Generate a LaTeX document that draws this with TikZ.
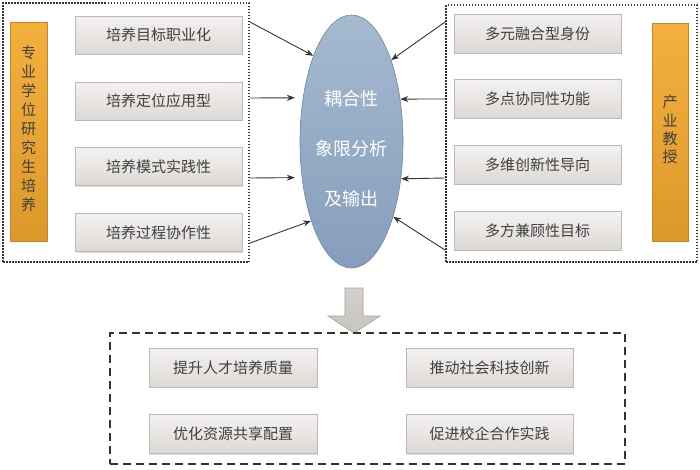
\documentclass[tikz,border=0pt]{standalone}
\usepackage{fontspec}
\setmainfont{Noto Sans CJK SC}
\usetikzlibrary{shapes.geometric,arrows.meta,shadows}
\definecolor{boxtxt}{HTML}{404040}
\definecolor{boxtop}{HTML}{F4F2F1}
\definecolor{boxbot}{HTML}{DCD8D5}
\definecolor{boxline}{HTML}{BDB8B4}
\definecolor{ortop}{HTML}{F4B03E}
\definecolor{orbot}{HTML}{DC992B}
\definecolor{orline}{HTML}{C58726}
\definecolor{eltop}{HTML}{A4BAD0}
\definecolor{elbot}{HTML}{869EBC}
\definecolor{elline}{HTML}{6F87A5}
\definecolor{arrgray}{HTML}{C8C4C0}
\definecolor{arrline}{HTML}{A39E9A}
\definecolor{dark}{HTML}{333333}
\tikzset{
  itembox/.style={draw=boxline, line width=0.6pt, top color=boxtop, bottom color=boxbot,
    minimum width=167pt, minimum height=38pt, inner sep=0pt, text=boxtxt,
    font=\fontsize{15}{18}\selectfont,
    drop shadow={shadow xshift=1.2pt, shadow yshift=-1.2pt, opacity=0.25}},
  orbar/.style={draw=orline, line width=0.6pt, top color=ortop, bottom color=orbot,
    minimum width=37pt, minimum height=219pt, inner sep=0pt,
    drop shadow={shadow xshift=1.2pt, shadow yshift=-1.2pt, opacity=0.25}},
  bartxt/.style={text=boxtxt, align=center, inner sep=0pt},
  dotbox/.style={draw=dark, line width=2pt, dash pattern=on 1.5pt off 1.5pt, inner sep=0pt},
  dashbox/.style={draw=dark, line width=2pt, dash pattern=on 8pt off 5pt, inner sep=0pt},
  core/.style={ellipse, draw=elline, line width=0.6pt, top color=eltop, bottom color=elbot,
    minimum width=103pt, minimum height=253pt, inner sep=0pt},
  arr/.style={draw=dark, line width=0.9pt, -{Stealth[length=8pt,width=6pt]}},
}
\begin{document}
\begin{tikzpicture}[x=1pt,y=-1pt]
\useasboundingbox (0,0) rectangle (700,469);
% dotted groups
\node[dotbox, minimum width=246pt, minimum height=259pt] (L) at (126,132.5) {};
\node[dotbox, minimum width=251pt, minimum height=257pt] (R) at (571.5,133.5) {};
% orange bars
\node[orbar] (LB) at (28.5,131.5) {};
\node[bartxt, font=\fontsize{15}{19}\selectfont] (LBt) at (28.5,129)
  {专\\业\\学\\位\\研\\究\\生\\培\\养};
\node[orbar, minimum width=36pt, minimum height=218pt] (RB) at (670,132) {};
\node[bartxt, font=\fontsize{15}{18.3}\selectfont] (RBt) at (670,129.5)
  {产\\业\\教\\授};
% left items
\node[itembox] (l1) at (158.5,35) {培养目标职业化};
\node[itembox] (l2) at (158.5,101) {培养定位应用型};
\node[itembox] (l3) at (158.5,166.5) {培养模式实践性};
\node[itembox] (l4) at (158.5,232.5) {培养过程协作性};
% right items
\node[itembox, minimum height=39pt] (r1) at (537.5,33.5) {多元融合型身份};
\node[itembox, minimum height=39pt] (r2) at (537.5,98.5) {多点协同性功能};
\node[itembox, minimum height=39pt] (r3) at (537.5,164.5) {多维创新性导向};
\node[itembox, minimum height=39pt] (r4) at (537.5,230.5) {多方兼顾性目标};
% core ellipse
\node[core] (E) at (351.5,141.5) {};
\node[text=white, align=center, inner sep=0pt, font=\fontsize{18}{50}\selectfont] (Et) at (351.5,149)
  {耦合性\\象限分析\\及输出};
% arrows
\coordinate (la1) at (L.east |- 0,22);
\coordinate (la2) at (L.east |- 0,98);
\coordinate (la3) at (L.east |- 0,178);
\coordinate (la4) at (L.east |- 0,243);
\coordinate (ra1) at (R.west |- 0,22);
\coordinate (ra2) at (R.west |- 0,99);
\coordinate (ra3) at (R.west |- 0,178);
\coordinate (ra4) at (R.west |- 0,250);
\draw[arr] (la1) -- (E.114);
\draw[arr, shorten >=8pt] (la2) -- (E.138);
\draw[arr, shorten >=7pt] (la3) -- (E.216.5);
\draw[arr] (la4) -- (E.243);
\draw[arr] (ra1) -- (E.64.4);
\draw[arr] (ra2) -- (E.41.2);
\draw[arr] (ra3) -- (E.323.5);
\draw[arr] (ra4) -- (E.299.1);
% big down arrow
\draw[draw=arrline, line width=0.6pt, top color=arrgray!80!white, bottom color=arrgray]
  (345,288) -- (363,288) -- (363,316) -- (380,316) -- (354,333) -- (328,316) -- (345,316) -- cycle;
% bottom group
\node[dashbox, minimum width=515pt, minimum height=131pt] (B) at (367.5,398.5) {};
\node[itembox, minimum width=168pt, minimum height=39pt] (b1) at (233,367.5) {提升人才培养质量};
\node[itembox, minimum width=167pt, minimum height=39pt] (b2) at (489.5,367.5) {推动社会科技创新};
\node[itembox, minimum width=168pt, minimum height=39pt] (b3) at (233,434) {优化资源共享配置};
\node[itembox, minimum width=167pt, minimum height=39pt] (b4) at (489.5,434) {促进校企合作实践};
\end{tikzpicture}
\end{document}
